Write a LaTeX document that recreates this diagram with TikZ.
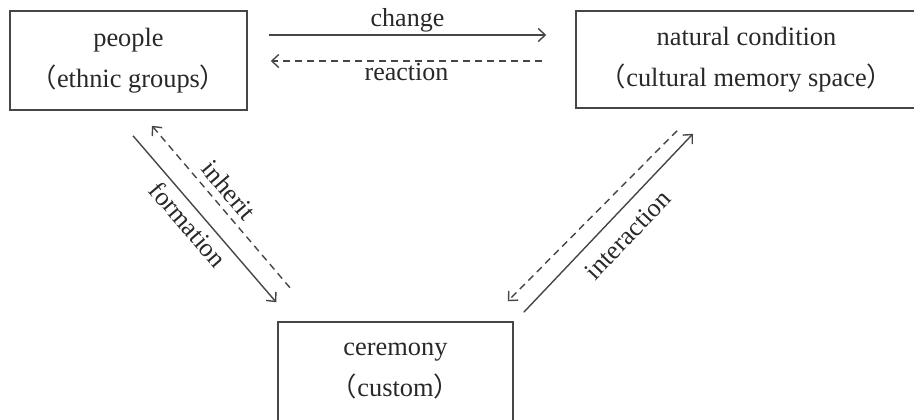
\documentclass[tikz,border=0pt]{standalone}
\usepackage{fontspec}
\setmainfont{Liberation Serif}
\newfontfamily\cjk{Noto Sans CJK SC}
\usepackage{tikz}
\usetikzlibrary{arrows.meta}
\definecolor{boxcol}{RGB}{70,70,70}
\definecolor{txtcol}{RGB}{40,40,40}
\newcommand{\openbr}{{\cjk （}}
\newcommand{\closebr}{{\cjk ）}}

\begin{document}
\begin{tikzpicture}[x=0.5pt,y=-0.5pt,>={Straight Barb[length=3.5pt,width=6.5pt]},
  box/.style={draw=boxcol,line width=0.75pt,align=center,text=txtcol,font=\fontsize{13.2}{20.5}\selectfont},
  solidarr/.style={draw=boxcol,line width=0.7pt,->},
  dasharr/.style={solidarr,dash pattern=on 3.5pt off 2.5pt},
  lbl/.style={text=txtcol,font=\fontsize{13}{15}\selectfont,inner sep=1pt}]
\useasboundingbox (0,0) rectangle (914,419);
\clip (0,0) rectangle (914,419);
\node[box,minimum width=118.5pt,minimum height=49.5pt] (people) at (128.5,60.5) {people\\\openbr ethnic groups\closebr};
\node[box,minimum width=170.5pt,minimum height=48.5pt] (natural) at (746.5,59.5) {natural condition\\\openbr cultural memory space\closebr};
\node[box,minimum width=117.5pt,minimum height=49.5pt] (ceremony) at (395.5,371.5) {ceremony\\\openbr custom\closebr};
\draw[solidarr] ([shift={(21,-25.5)}]people.east) -- node[lbl,above]{change} ([shift={(-29,-24.5)}]natural.west);
\draw[dasharr] ([shift={(-33,1.5)}]natural.west) -- node[lbl,below]{reaction} ([shift={(23,0.5)}]people.east);
\draw[solidarr] ([shift={(4.5,25)}]people.south) -- node[lbl,sloped,below,pos=0.47,inner sep=3pt]{formation} ([shift={(-1,-19)}]ceremony.north west);
\draw[dasharr,<-] ([shift={(23.5,15)}]people.south) -- node[lbl,sloped,above,pos=0.46,inner sep=3.5pt]{inherit} ([shift={(14,-32)}]ceremony.north west);
\draw[solidarr] ([shift={(10,-9)}]ceremony.north east) -- node[lbl,sloped,below,pos=0.52,inner sep=6.5pt]{interaction} ([shift={(-53.5,25)}]natural.south);
\draw[dasharr] ([shift={(-69.5,22)}]natural.south) -- ([shift={(-6,-20)}]ceremony.north east);
\end{tikzpicture}
\end{document}
